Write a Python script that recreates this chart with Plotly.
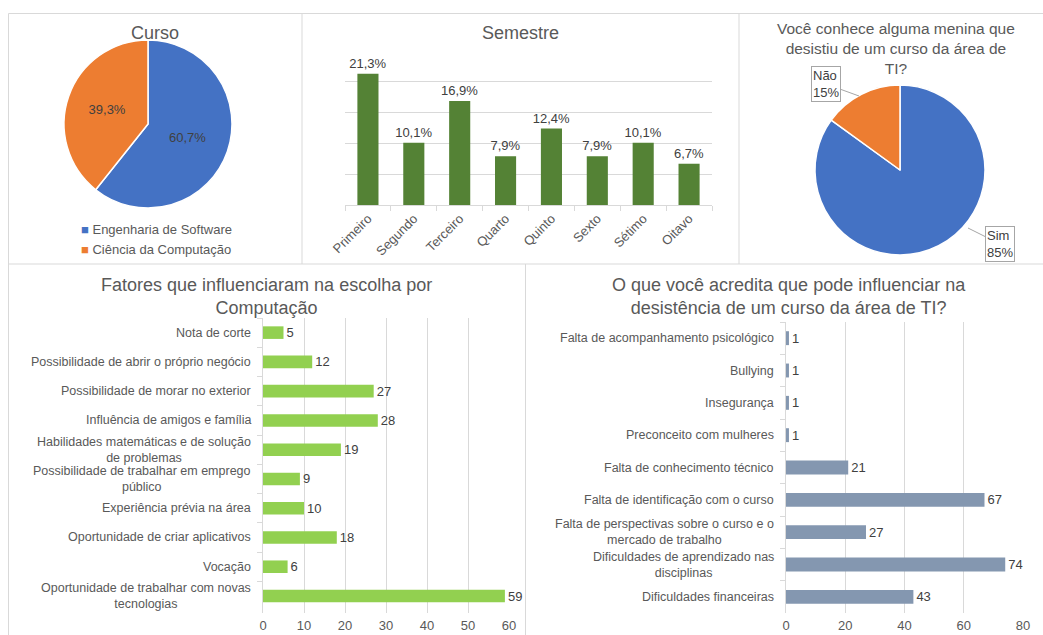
import plotly.graph_objects as go

W, H = 1043, 635


def px(x):
    return x / W


def py(y):
    return 1 - y / H


FONT = "Liberation Sans, Arial, sans-serif"
TXT = "#595959"
LBL = "#404040"
GRID = "#D9D9D9"

# ---------------- data ----------------
curso_labels = ["Engenharia de Software", "Ciência da Computação"]
curso_values = [60.7, 39.3]
curso_colors = ["#4472C4", "#ED7D31"]

sem_labels = ["Primeiro", "Segundo", "Terceiro", "Quarto", "Quinto", "Sexto", "Sétimo", "Oitavo"]
sem_values = [21.3, 10.1, 16.9, 7.9, 12.4, 7.9, 10.1, 6.7]

conhece_labels = ["Sim", "Não"]
conhece_values = [85, 15]
conhece_colors = ["#4472C4", "#ED7D31"]

fatores_labels = [
    "Nota de corte",
    "Possibilidade de abrir o próprio negócio",
    "Possibilidade de morar no exterior",
    "Influência de amigos e família",
    "Habilidades matemáticas e de solução<br>de problemas",
    "Possibilidade de trabalhar em emprego<br>público",
    "Experiência prévia na área",
    "Oportunidade de criar aplicativos",
    "Vocação",
    "Oportunidade de trabalhar com novas<br>tecnologias",
]
fatores_values = [5, 12, 27, 28, 19, 9, 10, 18, 6, 59]

desist_labels = [
    "Falta de acompanhamento psicológico",
    "Bullying",
    "Insegurança",
    "Preconceito com mulheres",
    "Falta de conhecimento técnico",
    "Falta de identificação com o curso",
    "Falta de perspectivas sobre o curso e o<br>mercado de trabalho",
    "Dificuldades de aprendizado nas<br>disciplinas",
    "Dificuldades financeiras",
]
desist_values = [1, 1, 1, 1, 21, 67, 27, 74, 43]


def br_pct(v):
    return f"{v:.1f}".replace(".", ",") + "%"


LBL_SIZE = 13
CAT_SIZE = 12.5

fig = go.Figure()

# Pie: Curso
fig.add_trace(go.Pie(
    labels=curso_labels, values=curso_values, sort=False, direction="clockwise", rotation=0,
    marker=dict(colors=curso_colors, line=dict(color="white", width=1.5)),
    text=[br_pct(v) for v in curso_values], textinfo="text", textposition="inside",
    insidetextorientation="horizontal",
    insidetextfont=dict(family=FONT, size=LBL_SIZE, color=LBL),
    domain=dict(x=[px(64), px(232)], y=[py(208), py(40)]),
    showlegend=False,
))

# Pie: conhece
fig.add_trace(go.Pie(
    labels=conhece_labels, values=conhece_values, sort=False, direction="clockwise", rotation=0,
    marker=dict(colors=conhece_colors, line=dict(color="white", width=1.5)),
    textinfo="none",
    domain=dict(x=[px(815), px(985)], y=[py(255), py(85)]),
    showlegend=False,
))

# Bar: Semestre
fig.add_trace(go.Bar(
    x=sem_labels, y=sem_values, marker_color="#548235", width=0.46,
    text=[br_pct(v) for v in sem_values], textposition="outside", cliponaxis=False,
    constraintext="none",
    textfont=dict(family=FONT, size=LBL_SIZE, color=LBL),
    xaxis="x", yaxis="y", showlegend=False,
))

# Bar: Fatores
fig.add_trace(go.Bar(
    x=fatores_values, y=fatores_labels, orientation="h", marker_color="#92D050", width=0.43,
    text=[str(v) for v in fatores_values], textposition="outside", cliponaxis=False,
    constraintext="none",
    textfont=dict(family=FONT, size=LBL_SIZE, color=LBL),
    xaxis="x2", yaxis="y2", showlegend=False,
))

# Bar: Desistência
fig.add_trace(go.Bar(
    x=desist_values, y=desist_labels, orientation="h", marker_color="#8497B0", width=0.43,
    text=[str(v) for v in desist_values], textposition="outside", cliponaxis=False,
    constraintext="none",
    textfont=dict(family=FONT, size=LBL_SIZE, color=LBL),
    xaxis="x3", yaxis="y3", showlegend=False,
))

annotations = []


def title(text, x, y, size):
    annotations.append(dict(text=text, x=px(x), y=py(y), xref="paper", yref="paper",
                            xanchor="center", yanchor="middle", showarrow=False,
                            font=dict(family=FONT, size=size, color=TXT)))


title("Curso", 154.5, 33, 18)
title("Semestre", 520.5, 33, 18)
title("Você conhece alguma menina que<br>desistiu de um curso da área de<br>TI?", 896, 48, 15.5)
title("Fatores que influenciaram na escolha por<br>Computação", 266.5, 297, 18)
title("O que você acredita que pode influenciar na<br>desistência de um curso da área de TI?", 789, 297, 18)

# Legend for Curso (manual)
for i, (lab, col) in enumerate(zip(curso_labels, curso_colors)):
    annotations.append(dict(
        text=f"<span style='color:{col}'>■</span> {lab}",
        x=px(79), y=py(229 + 21 * i), xref="paper", yref="paper",
        xanchor="left", yanchor="middle", showarrow=False,
        font=dict(family=FONT, size=LBL_SIZE, color=TXT)))

# Callouts for conhece pie
callout_heads = {"Não": (859, 96, -33, -12), "Sim": (968, 228, 32, 16)}
for lab, val in zip(conhece_labels, conhece_values):
    hx, hy, ax, ay = callout_heads[lab]
    annotations.append(dict(
        text=f"{lab}<br>{val}%", x=px(hx), y=py(hy), xref="paper", yref="paper",
        ax=ax, ay=ay, showarrow=True, arrowhead=0, arrowwidth=1, arrowcolor="#A6A6A6",
        standoff=0, startstandoff=0,
        bordercolor="#A6A6A6", borderwidth=1, borderpad=1, bgcolor="white", align="left",
        font=dict(family=FONT, size=LBL_SIZE, color=LBL)))

# Category labels (centered multi-line)
for lab in fatores_labels:
    annotations.append(dict(text=lab, x=0, y=lab, xref="x2 domain", yref="y2",
                            xanchor="right", yanchor="middle", xshift=-10, align="center",
                            showarrow=False, font=dict(family=FONT, size=CAT_SIZE, color=TXT)))
for lab in desist_labels:
    annotations.append(dict(text=lab, x=0, y=lab, xref="x3 domain", yref="y3",
                            xanchor="right", yanchor="middle", xshift=-10, align="center",
                            showarrow=False, font=dict(family=FONT, size=CAT_SIZE, color=TXT)))

# Panel borders
line_style = dict(color=GRID, width=1)
shapes = [
    dict(type="line", xref="paper", yref="paper", x0=px(8.5), x1=1, y0=py(13.5), y1=py(13.5), line=line_style),
    dict(type="line", xref="paper", yref="paper", x0=px(8.5), x1=px(8.5), y0=py(13.5), y1=0, line=line_style),
    dict(type="line", xref="paper", yref="paper", x0=px(302), x1=px(302), y0=py(13.5), y1=py(264), line=line_style),
    dict(type="line", xref="paper", yref="paper", x0=px(739), x1=px(739), y0=py(13.5), y1=py(264), line=line_style),
    dict(type="line", xref="paper", yref="paper", x0=px(8.5), x1=1, y0=py(264), y1=py(264), line=line_style),
    dict(type="line", xref="paper", yref="paper", x0=px(525.5), x1=px(525.5), y0=py(264), y1=0, line=line_style),
]

tickfont = dict(family=FONT, size=LBL_SIZE, color=TXT)

fig.update_layout(
    template="none",
    width=W, height=H, margin=dict(l=0, r=0, t=0, b=0, autoexpand=False),
    paper_bgcolor="white", plot_bgcolor="white",
    font=dict(family=FONT, color=TXT),
    annotations=annotations, shapes=shapes,
    xaxis=dict(domain=[px(345), px(712)], anchor="y", showline=True, linecolor=GRID,
               ticks="outside", tickson="boundaries", ticklen=5, tickcolor=GRID,
               tickangle=-45, tickfont=tickfont, showgrid=False, automargin=False),
    yaxis=dict(domain=[py(205), py(51)], anchor="x", range=[0, 25], dtick=5, showgrid=True,
               gridcolor=GRID, showticklabels=False, zeroline=False, ticks="", automargin=False),
    xaxis2=dict(domain=[px(263), px(509)], anchor="y2", range=[0, 60], dtick=10, showgrid=True,
                gridcolor=GRID, zeroline=False, showline=False, ticks="", tickfont=tickfont,
                ticklabelstandoff=3, automargin=False),
    yaxis2=dict(domain=[py(613), py(318)], anchor="x2", autorange="reversed", type="category",
                showticklabels=False, showline=True, linecolor=GRID, ticks="outside",
                tickson="boundaries", ticklen=5, tickcolor=GRID, showgrid=False, automargin=False),
    xaxis3=dict(domain=[px(786), px(1023)], anchor="y3", range=[0, 80], dtick=20, showgrid=True,
                gridcolor=GRID, zeroline=False, showline=False, ticks="", tickfont=tickfont,
                ticklabelstandoff=3, automargin=False),
    yaxis3=dict(domain=[py(613), py(322)], anchor="x3", autorange="reversed", type="category",
                showticklabels=False, showline=True, linecolor=GRID, ticks="outside",
                tickson="boundaries", ticklen=5, tickcolor=GRID, showgrid=False, automargin=False),
)

fig.write_html(
    "out.html",
    config={"displayModeBar": False},
    post_script="document.body.style.margin='0px';document.body.style.overflow='hidden';",
)
